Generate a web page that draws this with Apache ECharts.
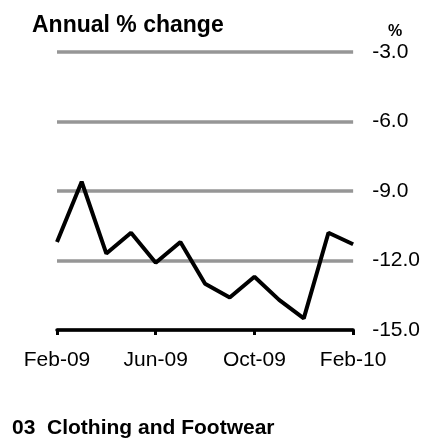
<!DOCTYPE html>
<html>
<head>
<meta charset="utf-8">
<script src="https://cdn.jsdelivr.net/npm/echarts@6/dist/echarts.min.js"></script>
<style>
    html, body { margin: 0; padding: 0; background: #ffffff; }
    #chart { width: 423px; height: 439px; }
</style>
</head>
<body>
<div id="chart"></div>
<script>
const months = ['Feb-09', 'Mar-09', 'Apr-09', 'May-09', 'Jun-09', 'Jul-09', 'Aug-09',
    'Sep-09', 'Oct-09', 'Nov-09', 'Dec-09', 'Jan-10', 'Feb-10']
const annualChange = [-11.2, -8.6, -11.7, -10.8, -12.1, -11.2, -13.0,
    -13.6, -12.7, -13.7, -14.5, -10.8, -11.3]
const yTicks = [-15, -12, -9, -6, -3]

const fontName = 'Liberation Sans, Arial, sans-serif'

let myChart = echarts.init(document.getElementById('chart'))

let option = {
    animation: false,
    backgroundColor: '#ffffff',
    title: {
        text: 'Annual % change',
        left: 27,
        top: 9,
        textStyle: {
            fontFamily: fontName,
            fontSize: 23,
            fontWeight: 'bold',
            color: '#000000'
        }
    },
    graphic: [
        {
            type: 'text',
            x: 395,
            y: 32,
            style: {
                text: '%',
                fontFamily: fontName,
                fontSize: 16,
                fontWeight: 'bold',
                fill: '#000000',
                textAlign: 'center',
                textVerticalAlign: 'middle'
            }
        },
        {
            type: 'text',
            x: 12,
            y: 428,
            style: {
                text: '03  Clothing and Footwear',
                fontFamily: fontName,
                fontSize: 21,
                fontWeight: 'bold',
                fill: '#000000',
                textAlign: 'left',
                textVerticalAlign: 'middle'
            }
        }
    ],
    grid: {
        left: 57,
        right: 66,
        top: 52,
        bottom: 109
    },
    xAxis: {
        type: 'category',
        data: months,
        boundaryGap: false,
        z: 3,
        axisLine: {
            show: true,
            lineStyle: { color: '#000000', width: 3.5 }
        },
        axisTick: {
            show: true,
            interval: 3,
            length: 5,
            lineStyle: { color: '#000000', width: 3 }
        },
        axisLabel: {
            interval: 3,
            margin: 20,
            fontFamily: fontName,
            fontSize: 21,
            color: '#000000'
        },
        splitLine: { show: false }
    },
    yAxis: {
        type: 'value',
        position: 'right',
        min: yTicks[0],
        max: yTicks[yTicks.length - 1],
        interval: 3,
        axisLine: { show: false },
        axisTick: { show: false },
        axisLabel: {
            margin: 19,
            fontFamily: fontName,
            fontSize: 21,
            color: '#000000',
            formatter: v => v.toFixed(1)
        },
        splitLine: {
            show: true,
            lineStyle: { color: '#969696', width: 3.5 }
        }
    },
    series: [
        {
            name: 'Annual % change',
            type: 'line',
            data: annualChange,
            symbol: 'none',
            z: 5,
            lineStyle: { color: '#000000', width: 4 },
            itemStyle: { color: '#000000' }
        }
    ]
}

myChart.setOption(option)
</script>
</body>
</html>
